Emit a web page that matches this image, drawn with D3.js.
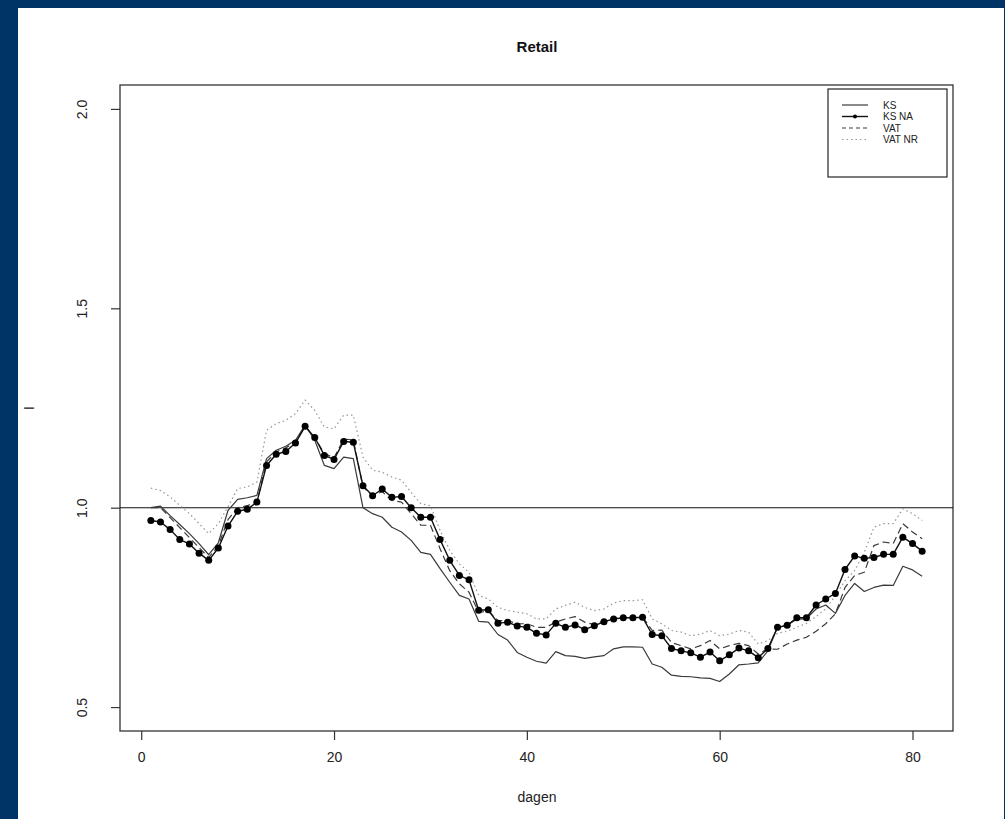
<!DOCTYPE html>
<html>
<head>
<meta charset="utf-8">
<script src="https://cdn.jsdelivr.net/npm/d3@7"></script>
<style>
  html, body { margin: 0; padding: 0; background: #003466; }
  svg { display: block; }
</style>
</head>
<body>
<svg id="chart" width="1005" height="819"></svg>
<script>
// Daily retail index, four estimation methods
const days = [1,2,3,4,5,6,7,8,9,10,11,12,13,14,15,16,17,18,19,20,21,22,23,24,25,26,27,28,29,30,
  31,32,33,34,35,36,37,38,39,40,41,42,43,44,45,46,47,48,49,50,51,52,53,54,55,56,57,58,59,60,
  61,62,63,64,65,66,67,68,69,70,71,72,73,74,75,76,77,78,79,80,81];

const ks = [1.0,1.004,0.98,0.958,0.935,0.91,0.882,0.912,0.993,1.021,1.025,1.031,1.123,1.144,1.154,1.169,1.207,1.169,1.106,1.098,
  1.127,1.123,1.0,0.985,0.976,0.951,0.939,0.918,0.888,0.883,0.847,0.813,0.78,0.771,0.715,0.713,0.682,0.668,0.637,0.625,
  0.615,0.61,0.639,0.629,0.627,0.622,0.626,0.629,0.646,0.651,0.651,0.65,0.608,0.6,0.58,0.577,0.576,0.573,0.572,0.564,
  0.583,0.606,0.608,0.611,0.641,0.7,0.705,0.72,0.722,0.746,0.756,0.735,0.78,0.81,0.79,0.8,0.806,0.805,0.853,0.844,0.828];

const ksNA = [0.968,0.964,0.945,0.92,0.909,0.886,0.868,0.899,0.954,0.991,0.996,1.014,1.106,1.134,1.141,1.162,1.204,1.176,1.131,1.121,
  1.166,1.164,1.055,1.03,1.047,1.026,1.028,1.0,0.976,0.976,0.92,0.868,0.83,0.819,0.743,0.744,0.71,0.713,0.703,0.7,
  0.685,0.681,0.71,0.7,0.706,0.694,0.704,0.714,0.721,0.724,0.724,0.725,0.682,0.679,0.647,0.641,0.636,0.625,0.638,0.616,
  0.631,0.648,0.641,0.624,0.647,0.7,0.705,0.724,0.724,0.756,0.771,0.785,0.845,0.879,0.873,0.875,0.883,0.883,0.926,0.91,0.891];

const vat = [1.0,1.0,0.975,0.95,0.925,0.9,0.875,0.905,0.97,1.0,1.005,1.015,1.115,1.14,1.15,1.165,1.205,1.175,1.136,1.125,
  1.172,1.17,1.052,1.03,1.04,1.018,1.014,0.985,0.956,0.956,0.897,0.842,0.809,0.788,0.738,0.74,0.717,0.717,0.709,0.709,
  0.7,0.7,0.713,0.721,0.727,0.713,0.707,0.717,0.722,0.724,0.724,0.726,0.692,0.693,0.662,0.654,0.646,0.654,0.667,0.646,
  0.654,0.66,0.654,0.633,0.646,0.645,0.658,0.668,0.675,0.69,0.709,0.734,0.8,0.83,0.838,0.905,0.914,0.91,0.96,0.939,0.922];

const vatNR = [1.049,1.043,1.027,1.006,0.985,0.96,0.935,0.96,1.002,1.048,1.052,1.064,1.194,1.211,1.219,1.236,1.27,1.244,1.202,1.198,
  1.232,1.232,1.127,1.094,1.089,1.077,1.069,1.038,1.01,1.005,0.943,0.893,0.859,0.838,0.78,0.771,0.75,0.742,0.738,0.734,
  0.721,0.721,0.746,0.755,0.763,0.75,0.742,0.746,0.761,0.767,0.767,0.769,0.721,0.709,0.692,0.688,0.679,0.683,0.692,0.679,
  0.683,0.692,0.688,0.658,0.667,0.685,0.69,0.7,0.71,0.727,0.746,0.78,0.817,0.842,0.888,0.951,0.96,0.96,0.997,0.985,0.968];

const xTicks = [0, 20, 40, 60, 80];
const yTicks = [0.5, 1.0, 1.5, 2.0];
const seriesNames = ["KS", "KS NA", "VAT", "VAT NR"];

const font = "'Liberation Sans', Arial, Helvetica, sans-serif";
const svg = d3.select("#chart");

// white page area inside the dark frame
svg.append("rect").attr("x", 18).attr("y", 8).attr("width", 986).attr("height", 811).attr("fill", "#ffffff");

const box = { left: 120, right: 953, top: 85, bottom: 731 };
const x = d3.scaleLinear().domain([-2.2, 84.2]).range([box.left, box.right]);
const y = d3.scaleLinear().domain([0.44, 2.06]).range([box.bottom, box.top]);

const axisColor = "#333333";

// x axis
const gx = svg.append("g").attr("transform", `translate(0,${box.bottom})`)
  .call(d3.axisBottom(x).tickValues(xTicks).tickSize(9).tickPadding(12).tickFormat(d3.format("d")));
gx.select(".domain").remove();
gx.selectAll("line").attr("stroke", axisColor).attr("stroke-width", 1.2);
gx.selectAll("text").attr("font-family", font).attr("font-size", 14).attr("fill", "#222");

// y axis with rotated labels
const gy = svg.append("g").attr("transform", `translate(${box.left},0)`)
  .call(d3.axisLeft(y).tickValues(yTicks).tickSize(9).tickFormat(d3.format(".1f")));
gy.select(".domain").remove();
gy.selectAll("line").attr("stroke", axisColor).attr("stroke-width", 1.2);
gy.selectAll("text")
  .attr("font-family", font).attr("font-size", 14).attr("fill", "#222")
  .attr("x", null).attr("dy", null)
  .attr("text-anchor", "middle")
  .attr("transform", "translate(-38,0) rotate(-90)")
  .attr("dy", "0.35em");

// plot box
svg.append("rect")
  .attr("x", box.left).attr("y", box.top)
  .attr("width", box.right - box.left).attr("height", box.bottom - box.top)
  .attr("fill", "none").attr("stroke", axisColor).attr("stroke-width", 1.3);

// reference line at 1
svg.append("line")
  .attr("x1", box.left).attr("x2", box.right)
  .attr("y1", y(1)).attr("y2", y(1))
  .attr("stroke", "#111").attr("stroke-width", 1.1);

const line = d3.line().x((d, i) => x(days[i])).y(d => y(d));

const styles = [
  { data: ks,    stroke: "#3a3a3a", width: 1.2, dash: null },
  { data: ksNA,  stroke: "#111111", width: 1.4, dash: null },
  { data: vat,   stroke: "#3a3a3a", width: 1.2, dash: "7,4" },
  { data: vatNR, stroke: "#959595", width: 1.2, dash: "1.5,3" }
];

// draw dotted first so the solid series sit above it
[3, 2, 0, 1].forEach(k => {
  const s = styles[k];
  svg.append("path")
    .datum(s.data)
    .attr("d", line)
    .attr("fill", "none")
    .attr("stroke", s.stroke)
    .attr("stroke-width", s.width)
    .attr("stroke-linejoin", "round")
    .attr("stroke-dasharray", s.dash);
});

svg.append("g").selectAll("circle")
  .data(ksNA)
  .join("circle")
  .attr("cx", (d, i) => x(days[i]))
  .attr("cy", d => y(d))
  .attr("r", 3.5)
  .attr("fill", "#000");

// title and axis titles
svg.append("text").attr("x", 537).attr("y", 52).attr("text-anchor", "middle")
  .attr("font-family", font).attr("font-size", 15).attr("font-weight", "bold").attr("fill", "#111")
  .text("Retail");
svg.append("text").attr("x", 537).attr("y", 802).attr("text-anchor", "middle")
  .attr("font-family", font).attr("font-size", 14).attr("fill", "#222")
  .text("dagen");
svg.append("text").attr("transform", `translate(34,${y(1.25)}) rotate(-90)`).attr("text-anchor", "middle")
  .attr("font-family", font).attr("font-size", 14).attr("fill", "#222")
  .text("I");

// legend
const lg = svg.append("g");
lg.append("rect").attr("x", 828).attr("y", 89).attr("width", 119).attr("height", 88)
  .attr("fill", "#fff").attr("stroke", "#111").attr("stroke-width", 1.1);
seriesNames.forEach((name, k) => {
  const s = styles[k];
  const yy = 105 + k * 11.5;
  lg.append("line").attr("x1", 842).attr("x2", 868).attr("y1", yy).attr("y2", yy)
    .attr("stroke", s.stroke).attr("stroke-width", s.width).attr("stroke-dasharray", k === 2 ? "4,3" : s.dash);
  if (k === 1) lg.append("circle").attr("cx", 855).attr("cy", yy).attr("r", 2).attr("fill", "#000");
  lg.append("text").attr("x", 883).attr("y", yy).attr("dy", "0.35em")
    .attr("font-family", font).attr("font-size", 10).attr("fill", "#222").text(name);
});
</script>
</body>
</html>
